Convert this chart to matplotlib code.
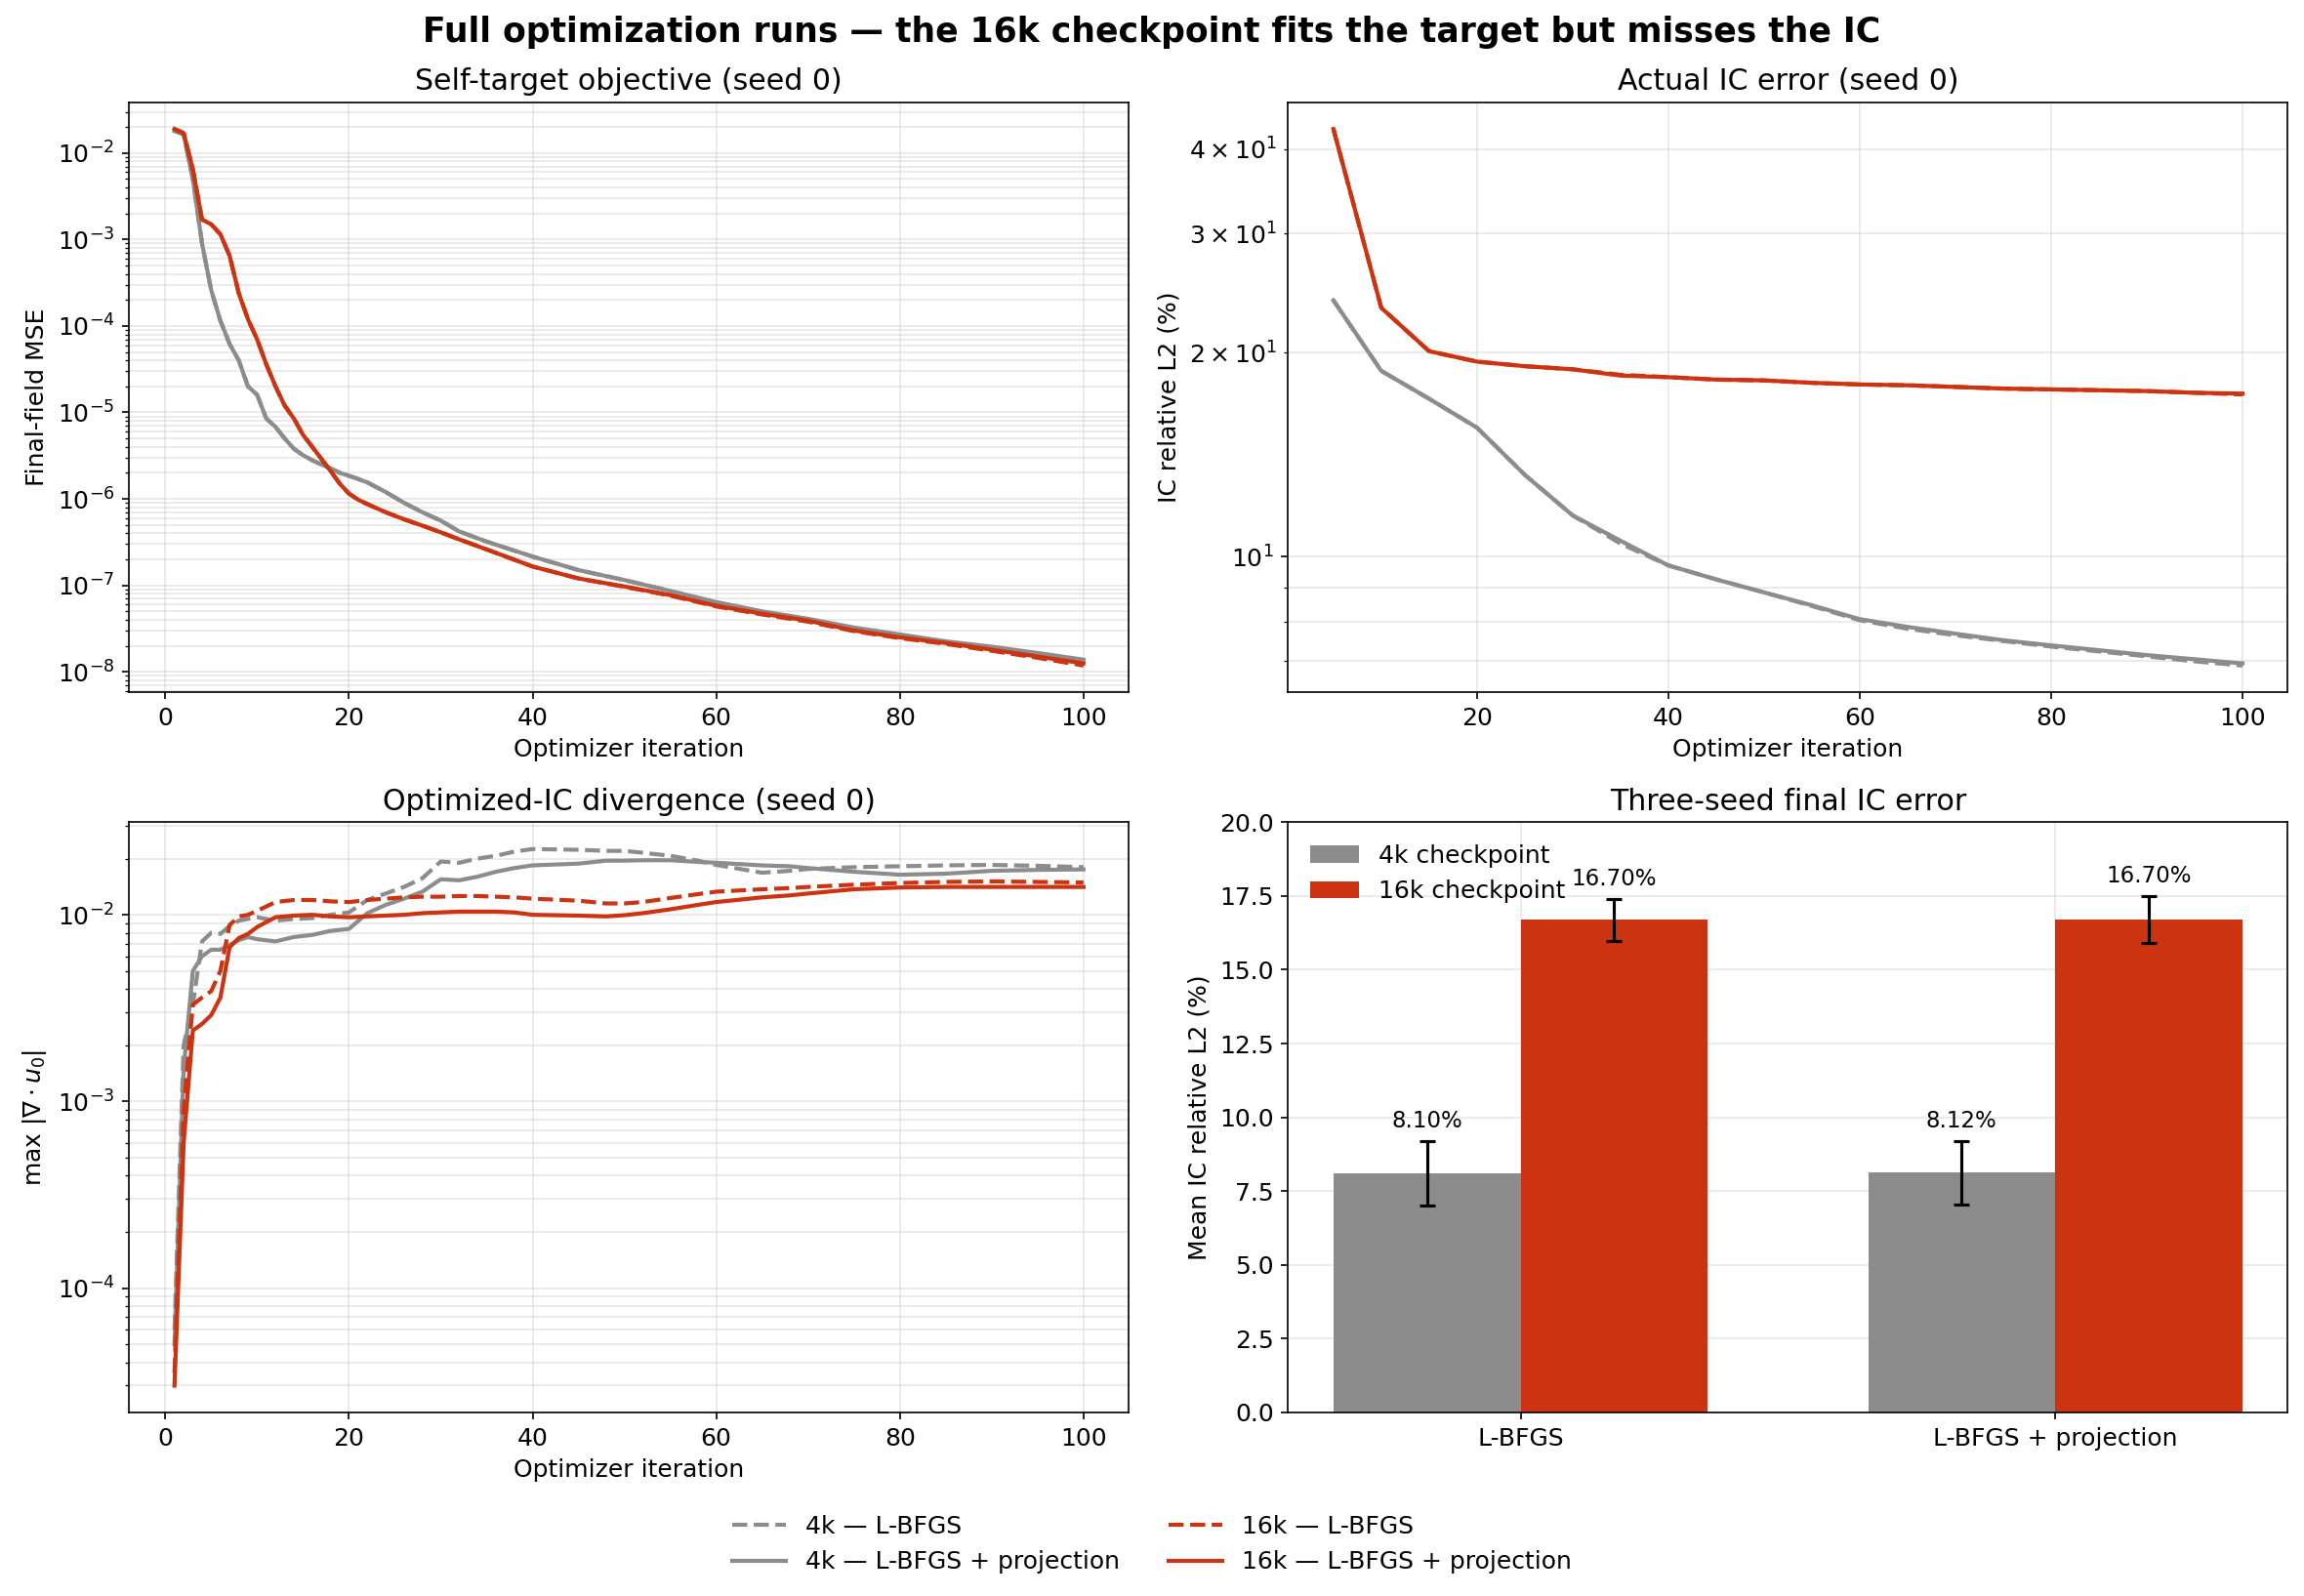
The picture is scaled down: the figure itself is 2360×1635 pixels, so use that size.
import matplotlib.pyplot as plt
import numpy as np

# Colours
gray = "#8c8c8c"
red = "#cc3311"

# Self-target objective (seed 0), final-field MSE vs iteration
obj_iter = [1, 2, 3, 4, 5, 6, 7, 8, 9, 10, 11, 12, 13, 14, 15, 16, 17, 18, 19, 20,
            21, 22, 24, 26, 28, 30, 32, 35, 40, 45, 50, 55, 60, 65, 70, 75, 80, 85, 90, 95, 100]
obj_4k_lbfgs = [1.8e-2, 1.65e-2, 5.0e-3, 9.0e-4, 2.6e-4, 1.15e-4, 6.2e-5, 4.0e-5, 2.0e-5, 1.6e-5,
                8.5e-6, 6.8e-6, 5.0e-6, 3.8e-6, 3.2e-6, 2.8e-6, 2.5e-6, 2.25e-6, 2.0e-6, 1.85e-6,
                1.7e-6, 1.55e-6, 1.2e-6, 9.0e-7, 7.0e-7, 5.6e-7, 4.2e-7, 3.2e-7, 2.15e-7, 1.5e-7,
                1.15e-7, 8.6e-8, 6.3e-8, 4.9e-8, 4.0e-8, 3.2e-8, 2.65e-8, 2.2e-8, 1.9e-8, 1.6e-8, 1.32e-8]
obj_4k_proj = [1.8e-2, 1.65e-2, 5.0e-3, 9.0e-4, 2.6e-4, 1.15e-4, 6.2e-5, 4.0e-5, 2.0e-5, 1.6e-5,
               8.5e-6, 6.8e-6, 5.0e-6, 3.8e-6, 3.2e-6, 2.8e-6, 2.5e-6, 2.25e-6, 2.0e-6, 1.85e-6,
               1.7e-6, 1.55e-6, 1.2e-6, 9.0e-7, 7.0e-7, 5.6e-7, 4.2e-7, 3.2e-7, 2.15e-7, 1.5e-7,
               1.15e-7, 8.6e-8, 6.4e-8, 5.0e-8, 4.1e-8, 3.25e-8, 2.7e-8, 2.25e-8, 1.95e-8, 1.65e-8, 1.38e-8]
obj_16k_lbfgs = [1.9e-2, 1.7e-2, 6.5e-3, 1.7e-3, 1.5e-3, 1.15e-3, 6.5e-4, 2.4e-4, 1.2e-4, 7.0e-5,
                 3.6e-5, 2.0e-5, 1.2e-5, 8.5e-6, 5.5e-6, 4.0e-6, 2.9e-6, 2.1e-6, 1.5e-6, 1.15e-6,
                 9.8e-7, 8.7e-7, 7.0e-7, 5.8e-7, 4.9e-7, 4.1e-7, 3.4e-7, 2.6e-7, 1.65e-7, 1.2e-7,
                 9.6e-8, 7.6e-8, 5.7e-8, 4.6e-8, 3.8e-8, 2.95e-8, 2.45e-8, 2.1e-8, 1.75e-8, 1.45e-8, 1.18e-8]
obj_16k_proj = [1.9e-2, 1.7e-2, 6.5e-3, 1.7e-3, 1.5e-3, 1.15e-3, 6.5e-4, 2.4e-4, 1.2e-4, 7.0e-5,
                3.6e-5, 2.0e-5, 1.2e-5, 8.5e-6, 5.5e-6, 4.0e-6, 2.9e-6, 2.1e-6, 1.5e-6, 1.15e-6,
                9.8e-7, 8.7e-7, 7.0e-7, 5.8e-7, 4.9e-7, 4.1e-7, 3.4e-7, 2.6e-7, 1.65e-7, 1.2e-7,
                9.7e-8, 7.7e-8, 5.8e-8, 4.7e-8, 3.9e-8, 3.0e-8, 2.5e-8, 2.15e-8, 1.8e-8, 1.5e-8, 1.25e-8]

# Actual IC error (seed 0), evaluated every 5 iterations
ic_iter = [5, 10, 15, 20, 25, 30, 35, 40, 45, 50, 55, 60, 65, 70, 75, 80, 85, 90, 95, 100]
ic_4k_lbfgs = [23.9, 18.8, 17.1, 15.5, 13.2, 11.5, 10.45, 9.7, 9.25, 8.85,
               8.45, 8.05, 7.82, 7.65, 7.5, 7.36, 7.24, 7.12, 7.0, 6.9]
ic_4k_proj = [23.9, 18.8, 17.1, 15.5, 13.2, 11.5, 10.55, 9.7, 9.25, 8.85,
              8.47, 8.08, 7.87, 7.69, 7.52, 7.39, 7.27, 7.15, 7.05, 6.95]
ic_16k_lbfgs = [42.8, 23.3, 20.1, 19.4, 19.1, 18.9, 18.55, 18.4, 18.25, 18.2,
                18.05, 17.95, 17.9, 17.8, 17.7, 17.65, 17.6, 17.55, 17.45, 17.35]
ic_16k_proj = [42.8, 23.3, 20.1, 19.4, 19.1, 18.9, 18.5, 18.4, 18.25, 18.2,
               18.05, 17.95, 17.9, 17.8, 17.7, 17.65, 17.6, 17.55, 17.45, 17.4]

# Optimized-IC divergence (seed 0)
div_iter = [1, 2, 3, 4, 5, 6, 7, 8, 9, 10, 12, 14, 16, 18, 20, 22, 24, 26, 28, 30, 32, 34, 36, 38,
            40, 45, 48, 50, 52, 55, 58, 60, 65, 68, 70, 75, 80, 85, 90, 95, 100]
div_4k_lbfgs = [6e-5, 2.0e-3, 3.3e-3, 7.2e-3, 8.0e-3, 7.9e-3, 8.7e-3, 9.3e-3, 9.5e-3, 9.7e-3,
                9.3e-3, 9.5e-3, 9.6e-3, 1.0e-2, 1.03e-2, 1.2e-2, 1.3e-2, 1.41e-2, 1.57e-2, 1.93e-2,
                1.9e-2, 2.0e-2, 2.07e-2, 2.18e-2, 2.25e-2, 2.23e-2, 2.2e-2, 2.2e-2, 2.15e-2, 2.07e-2,
                1.95e-2, 1.85e-2, 1.68e-2, 1.72e-2, 1.76e-2, 1.8e-2, 1.82e-2, 1.84e-2, 1.85e-2, 1.83e-2, 1.8e-2]
div_4k_proj = [5e-5, 1.5e-3, 5.0e-3, 6.0e-3, 6.5e-3, 6.5e-3, 6.9e-3, 7.3e-3, 7.6e-3, 7.4e-3,
               7.2e-3, 7.6e-3, 7.8e-3, 8.2e-3, 8.4e-3, 1.02e-2, 1.13e-2, 1.22e-2, 1.33e-2, 1.55e-2,
               1.53e-2, 1.6e-2, 1.7e-2, 1.78e-2, 1.84e-2, 1.88e-2, 1.95e-2, 1.95e-2, 1.96e-2, 1.96e-2,
               1.92e-2, 1.9e-2, 1.84e-2, 1.82e-2, 1.78e-2, 1.7e-2, 1.64e-2, 1.66e-2, 1.72e-2, 1.74e-2, 1.75e-2]
div_16k_lbfgs = [3.5e-5, 9e-4, 3.3e-3, 3.6e-3, 3.9e-3, 5.0e-3, 8.8e-3, 9.8e-3, 1.0e-2, 1.05e-2,
                 1.17e-2, 1.2e-2, 1.2e-2, 1.18e-2, 1.17e-2, 1.2e-2, 1.22e-2, 1.24e-2, 1.25e-2, 1.25e-2,
                 1.26e-2, 1.26e-2, 1.25e-2, 1.24e-2, 1.22e-2, 1.19e-2, 1.15e-2, 1.15e-2, 1.17e-2, 1.23e-2,
                 1.29e-2, 1.33e-2, 1.37e-2, 1.39e-2, 1.41e-2, 1.45e-2, 1.48e-2, 1.5e-2, 1.51e-2, 1.5e-2, 1.49e-2]
div_16k_proj = [3.0e-5, 6.0e-4, 2.4e-3, 2.6e-3, 2.9e-3, 3.6e-3, 6.7e-3, 7.5e-3, 7.9e-3, 8.6e-3,
                9.7e-3, 9.9e-3, 1.0e-2, 9.8e-3, 9.7e-3, 9.8e-3, 9.9e-3, 1.0e-2, 1.02e-2, 1.03e-2,
                1.04e-2, 1.04e-2, 1.04e-2, 1.03e-2, 1.0e-2, 9.9e-3, 9.8e-3, 9.95e-3, 1.02e-2, 1.07e-2,
                1.13e-2, 1.17e-2, 1.24e-2, 1.27e-2, 1.3e-2, 1.37e-2, 1.4e-2, 1.41e-2, 1.41e-2, 1.41e-2, 1.41e-2]

# Three-seed final IC error
methods = ["L-BFGS", "L-BFGS + projection"]
final_4k_mean = [8.10, 8.12]
final_4k_err = [1.09, 1.07]
final_16k_mean = [16.70, 16.70]
final_16k_err = [0.71, 0.79]

plt.rcParams["font.size"] = 12

fig, axes = plt.subplots(2, 2, figsize=(2360 / 150, 1635 / 150), dpi=150)
fig.subplots_adjust(left=0.056, right=0.993, top=0.936, bottom=0.115,
                    wspace=0.159, hspace=0.22)

series = [
    ("4k — L-BFGS", gray, "--"),
    ("4k — L-BFGS + projection", gray, "-"),
    ("16k — L-BFGS", red, "--"),
    ("16k — L-BFGS + projection", red, "-"),
]

# Panel 1: self-target objective
ax = axes[0, 0]
for (label, color, ls), values in zip(series, [obj_4k_lbfgs, obj_4k_proj, obj_16k_lbfgs, obj_16k_proj]):
    ax.plot(obj_iter, values, color=color, linestyle=ls, linewidth=2, label=label)
ax.set_yscale("log")
ax.set_title("Self-target objective (seed 0)")
ax.set_xlabel("Optimizer iteration")
ax.set_ylabel("Final-field MSE")
ax.grid(True, which="both", alpha=0.3)

# Panel 2: actual IC error
ax = axes[0, 1]
for (label, color, ls), values in zip(series, [ic_4k_lbfgs, ic_4k_proj, ic_16k_lbfgs, ic_16k_proj]):
    ax.plot(ic_iter, values, color=color, linestyle=ls, linewidth=2)
ax.set_yscale("log")
ax.set_title("Actual IC error (seed 0)")
ax.set_xlabel("Optimizer iteration")
ax.set_ylabel("IC relative L2 (%)")
ax.grid(True, which="both", alpha=0.3)

# Panel 3: divergence of optimized IC
ax = axes[1, 0]
for (label, color, ls), values in zip(series, [div_4k_lbfgs, div_4k_proj, div_16k_lbfgs, div_16k_proj]):
    ax.plot(div_iter, values, color=color, linestyle=ls, linewidth=2)
ax.set_yscale("log")
ax.set_title("Optimized-IC divergence (seed 0)")
ax.set_xlabel("Optimizer iteration")
ax.set_ylabel(r"max $|\nabla \cdot u_0|$")
ax.grid(True, which="both", alpha=0.3)

# Panel 4: three-seed bars
ax = axes[1, 1]
x = np.arange(len(methods))
width = 0.35
ax.bar(x - width / 2, final_4k_mean, width, yerr=final_4k_err, color=gray,
       capsize=4, error_kw={"elinewidth": 1.5, "capthick": 1.5}, label="4k checkpoint", zorder=2)
ax.bar(x + width / 2, final_16k_mean, width, yerr=final_16k_err, color=red,
       capsize=4, error_kw={"elinewidth": 1.5, "capthick": 1.5}, label="16k checkpoint", zorder=2)
for i in range(len(methods)):
    ax.text(x[i] - width / 2, final_4k_mean[i] + final_4k_err[i] + 0.3,
            f"{final_4k_mean[i]:.2f}%", ha="center", va="bottom", fontsize=11)
    ax.text(x[i] + width / 2, final_16k_mean[i] + final_16k_err[i] + 0.3,
            f"{final_16k_mean[i]:.2f}%", ha="center", va="bottom", fontsize=11)
ax.set_xticks(x)
ax.set_xticklabels(methods)
ax.set_ylim(0, 20)
ax.set_title("Three-seed final IC error")
ax.set_ylabel("Mean IC relative L2 (%)")
ax.grid(True, alpha=0.3, zorder=0)
ax.set_axisbelow(True)
ax.legend(loc="upper left", frameon=False)

handles, labels = axes[0, 0].get_legend_handles_labels()
fig.legend(handles, labels, loc="lower center", ncol=2, frameon=False,
           bbox_to_anchor=(0.5, 0.0), handlelength=2.2)

fig.suptitle("Full optimization runs — the 16k checkpoint fits the target but misses the IC",
             fontsize=16.6, fontweight="bold", y=0.99)

fig.savefig("out.png", dpi=150)
